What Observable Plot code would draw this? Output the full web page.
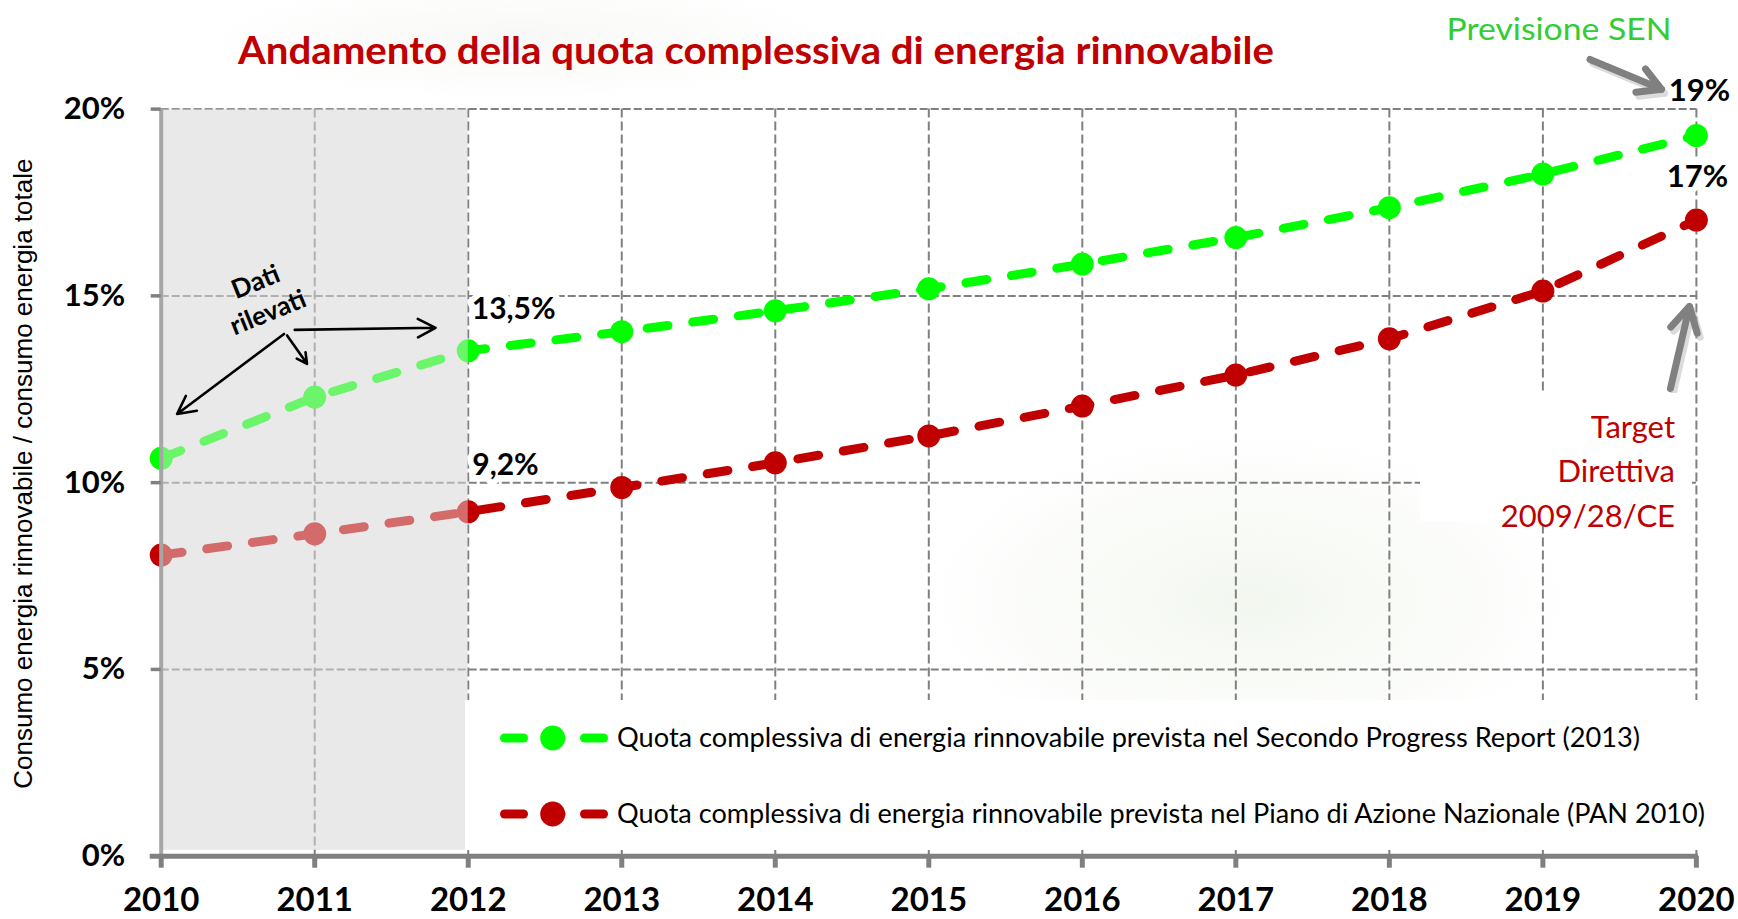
<!DOCTYPE html>
<html lang="it">
<head>
<meta charset="utf-8">
<title>Andamento della quota complessiva di energia rinnovabile</title>
<script src="https://cdn.jsdelivr.net/npm/d3@7"></script>
<script src="https://cdn.jsdelivr.net/npm/@observablehq/plot@0.6"></script>
<style>
html, body { margin:0; padding:0; background:#fff; }
#wrap { position:relative; width:1738px; height:919px; overflow:hidden;
  background:
    radial-gradient(ellipse 330px 170px at 1250px 600px, rgba(220,232,212,0.35), rgba(220,232,212,0) 100%),
    radial-gradient(ellipse 320px 60px at 520px 40px, rgba(240,241,236,0.5), rgba(240,241,236,0) 100%),
    #fff;
}
#chart svg { display:block; }
#title { position:absolute; left:238px; top:30px; margin:0; font-family:Lato, sans-serif; font-weight:700; font-size:38.5px; line-height:1; color:#c00000; white-space:nowrap; transform-origin:0 0; }
.box { position:absolute; background:#fff; }
#legend { left:465px; top:700px; width:1273px; height:150px; }
.lsym { position:absolute; left:30px; width:118px; height:30px; }
.ltext { position:absolute; left:152px; font-family:Lato, sans-serif; font-size:26px; line-height:30px; color:#000; white-space:nowrap; transform-origin:0 50%; }
#target { left:1420px; top:393px; width:272px; height:128px; padding-top:10.75px; box-sizing:border-box; }
#target div { text-align:right; padding-right:17px; font-family:Lato, sans-serif; font-size:31px; line-height:44.5px; color:#c00000; white-space:nowrap; }
</style>
</head>
<body>
<div id="wrap">
  <div id="chart"></div>
  <h1 id="title">Andamento della quota complessiva di energia rinnovabile</h1>
  <div id="legend" class="box"></div>
  <div id="target" class="box"><div>Target</div><div>Direttiva</div><div>2009/28/CE</div></div>
</div>
<script>
// ---- data ----
const years = [2010, 2011, 2012, 2013, 2014, 2015, 2016, 2017, 2018, 2019, 2020];
const progressReport2013 = [10.65, 12.29, 13.53, 14.04, 14.60, 15.19, 15.85, 16.56, 17.36, 18.26, 19.29];
const pan2010 = [8.06, 8.63, 9.22, 9.87, 10.53, 11.25, 12.05, 12.88, 13.85, 15.13, 17.03];
const seriesNames = [
  "Quota complessiva di energia rinnovabile prevista nel Secondo Progress Report (2013)",
  "Quota complessiva di energia rinnovabile prevista nel Piano di Azione Nazionale (PAN 2010)"
];
const seriesColors = ["#00ff00", "#c00000"];
const yTicks = [0, 5, 10, 15, 20];
const observedPeriod = [{from: 2010, to: 2012}];
const callouts = [
  {series: 0, year: 2012, text: "13,5%"},
  {series: 1, year: 2012, text: "9,2%"},
  {series: 0, year: 2020, text: "19%"},
  {series: 1, year: 2020, text: "17%"}
];
const yAxisTitle = "Consumo energia rinnovabile / consumo energia totale";
const observedNote = [{year: 2010.651, value: 15.01, text: "Dati\nrilevati"}];
const observedArrows = [
  {x1: 2010.80, y1: 13.98, x2: 2010.104, y2: 11.84},
  {x1: 2010.82, y1: 13.94, x2: 2010.95, y2: 13.18},
  {x1: 2010.87, y1: 14.09, x2: 2011.787, y2: 14.145}
];
const senNote = [{year: 2018.372, value: 22.10, text: "Previsione SEN"}];
const calloutArrows = [
  {x1: 2019.307, y1: 21.33, x2: 2019.773, y2: 20.53},
  {x1: 2019.831, y1: 12.52, x2: 2019.955, y2: 14.72}
];

// ---- table ----
const seriesValues = [progressReport2013, pan2010];
const rows = seriesNames.flatMap((s, i) => years.map((year, j) => ({series: s, year, value: seriesValues[i][j]})));
const callRows = callouts.map(c => ({...c, value: seriesValues[c.series][years.indexOf(c.year)]}));

const halo = {stroke: "white", strokeWidth: 12, paintOrder: "stroke", fill: "#000", fontWeight: 700, fontSize: 30, fontFamily: "Lato"};

const chart = Plot.plot({
  width: 1738, height: 919,
  marginLeft: 160.7, marginRight: 42.1, marginTop: 108.6, marginBottom: 63.3,
  style: {background: "transparent", fontFamily: "Lato", color: "#000", overflow: "visible"},
  x: {domain: [years[0], years[years.length - 1]], label: null},
  y: {domain: [yTicks[0], yTicks[yTicks.length - 1]], label: null},
  color: {domain: seriesNames, range: seriesColors},
  marks: [
    Plot.rect(observedPeriod, {x1: "from", x2: "to", y1: () => yTicks[0], y2: () => yTicks[yTicks.length - 1], fill: "#e9e9e9", insetBottom: 6}),
    Plot.gridY(yTicks.slice(1), {stroke: "#808080", strokeOpacity: 1, strokeWidth: 2, strokeDasharray: "8,3"}),
    Plot.gridX(years.slice(1), {stroke: "#808080", strokeOpacity: 1, strokeWidth: 2, strokeDasharray: "9,4"}),
    Plot.text(callRows.filter((d, i) => i === 0), {x: "year", y: "value", text: "text", textAnchor: "start", dx: 3.5, dy: -41, ...halo}),
    Plot.text(callRows.filter((d, i) => i === 1), {x: "year", y: "value", text: "text", textAnchor: "start", dx: 4, dy: -46, ...halo}),
    Plot.text(callRows.filter((d, i) => i === 2), {x: "year", y: "value", text: "text", textAnchor: "middle", dx: 3, dy: -44.6, ...halo, fontSize: 31}),
    Plot.text(callRows.filter((d, i) => i === 3), {x: "year", y: "value", text: "text", textAnchor: "middle", dx: 1, dy: -42.5, ...halo, fontSize: 31}),
    Plot.line(rows, {x: "year", y: "value", z: "series", stroke: "series", strokeWidth: 9, strokeDasharray: "21,25", strokeLinecap: "round"}),
    Plot.dot(rows, {x: "year", y: "value", fill: "series", r: 11.5}),
    Plot.rect(observedPeriod, {x1: "from", x2: "to", y1: () => yTicks[0], y2: () => yTicks[yTicks.length - 1], fill: "#e9e9e9", fillOpacity: 0.46, insetBottom: 6}),
    Plot.ruleX([years[0]], {stroke: "#a6a6a6", strokeWidth: 4}),
    Plot.ruleY([yTicks[0]], {stroke: "#808080", strokeWidth: 5, insetLeft: -11, insetRight: -2}),
    Plot.axisY(yTicks, {tickSize: 10, tickPadding: 26, tickFormat: d => d + "%", fontSize: 31, fontWeight: 700, stroke: "#808080", strokeWidth: 3.5, fill: "#000", label: null}),
    Plot.axisX(years, {tickSize: 12, tickPadding: 19, tickFormat: d => String(d), fontSize: 33, fontWeight: 700, stroke: "#808080", strokeWidth: 5, fill: "#000", label: null}),
    Plot.text(observedNote, {x: "year", y: "value", text: "text", rotate: -22, fontSize: 26, fontWeight: 700, lineHeight: 1.27, fill: "#000"}),
    Plot.arrow(observedArrows, {x1: "x1", y1: "y1", x2: "x2", y2: "y2", stroke: "#000", strokeWidth: 2.6, headLength: 11.5, headAngle: 55}),
    Plot.arrow(calloutArrows, {x1: "x1", y1: "y1", x2: "x2", y2: "y2", stroke: "#b8b8b8", strokeOpacity: 0.5, strokeWidth: 7, headLength: 6, headAngle: 58, dx: 3, dy: 4}),
    Plot.arrow(calloutArrows, {x1: "x1", y1: "y1", x2: "x2", y2: "y2", stroke: "#808080", strokeWidth: 7, headLength: 6, headAngle: 58}),
    Plot.text(senNote, {x: "year", y: "value", text: "text", textAnchor: "start", fill: "#33cc33", fontSize: 30}),
    Plot.text([yAxisTitle], {text: d => d, frameAnchor: "left", textAnchor: "middle", rotate: -90, dx: -137.7, dy: -9, fontFamily: "Liberation Sans", fontSize: 26, fill: "#000"})
  ]
});
document.getElementById("chart").append(chart);

// condense / stretch Calibri-like texts to the reference widths
chart.querySelectorAll("text").forEach(t => {
  if (t.textContent === "Previsione SEN") {
    t.setAttribute("textLength", 225);
    t.setAttribute("lengthAdjust", "spacingAndGlyphs");
  }
});

const title = document.getElementById("title");
title.style.transform = `scaleX(${1036 / title.getBoundingClientRect().width})`;

// ---- legend ----
const legend = document.getElementById("legend");
const legendTop = [23, 99];
const legendWidth = [1023, 1088];
seriesNames.forEach((name, i) => {
  const sym = document.createElementNS("http://www.w3.org/2000/svg", "svg");
  sym.setAttribute("class", "lsym");
  sym.setAttribute("viewBox", "0 0 118 30");
  sym.style.top = legendTop[i] + "px";
  sym.innerHTML = `<line x1="9.5" y1="15" x2="28.5" y2="15" stroke="${seriesColors[i]}" stroke-width="9" stroke-linecap="round"/>
    <line x1="57" y1="15" x2="66" y2="15" stroke="${seriesColors[i]}" stroke-width="9" stroke-linecap="round"/>
    <circle cx="57.7" cy="15" r="12.5" fill="${seriesColors[i]}"/>
    <line x1="89.5" y1="15" x2="108.5" y2="15" stroke="${seriesColors[i]}" stroke-width="9" stroke-linecap="round"/>`;
  legend.append(sym);
  const txt = document.createElement("span");
  txt.className = "ltext";
  txt.textContent = name;
  txt.style.top = (legendTop[i] - 1.4) + "px";
  legend.append(txt);
  txt.style.transform = `scaleX(${legendWidth[i] / txt.getBoundingClientRect().width})`;
});
</script>
</body>
</html>
